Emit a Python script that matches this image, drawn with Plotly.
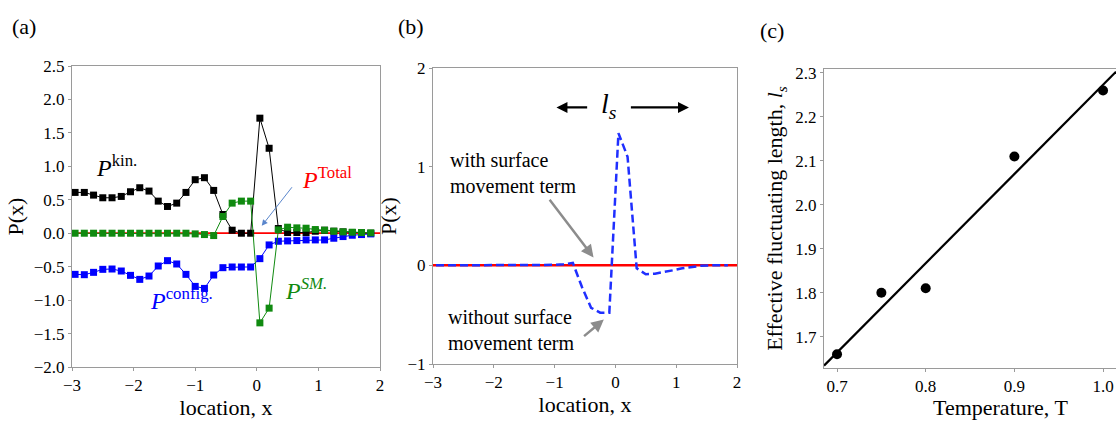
import numpy as np
import plotly.graph_objects as go

# ---------------- data ----------------
x_loc = [-2.95, -2.80, -2.65, -2.50, -2.35, -2.20, -2.05, -1.90, -1.75, -1.60, -1.45,
         -1.30, -1.15, -1.00, -0.85, -0.70, -0.55, -0.40, -0.25, -0.10, 0.05, 0.20,
         0.35, 0.50, 0.65, 0.80, 0.95, 1.10, 1.25, 1.40, 1.55, 1.70, 1.85]

p_kin = [0.61, 0.61, 0.57, 0.53, 0.53, 0.55, 0.62, 0.68, 0.63, 0.48, 0.40,
         0.45, 0.61, 0.80, 0.83, 0.64, 0.28, 0.045, 0.0, 0.0, 1.72, 1.27,
         0.07, 0.01, 0.01, 0.01, 0.03, 0.045, 0.03, 0.02, 0.01, 0.005, 0.0]

p_config = [-0.615, -0.62, -0.585, -0.54, -0.535, -0.565, -0.63, -0.69, -0.64, -0.49, -0.41,
            -0.46, -0.615, -0.795, -0.825, -0.625, -0.515, -0.505, -0.505, -0.505, -0.38, -0.175,
            -0.12, -0.115, -0.11, -0.10, -0.10, -0.10, -0.075, -0.05, -0.03, -0.02, -0.01]

p_sm = [0.0, 0.0, 0.0, 0.0, 0.0, 0.0, 0.0, 0.0, 0.0, 0.0, 0.0,
        0.0, 0.0, -0.01, -0.02, -0.035, 0.25, 0.45, 0.48, 0.48, -1.34, -1.12,
        0.05, 0.09, 0.08, 0.075, 0.055, 0.045, 0.03, 0.02, 0.015, 0.01, 0.005]

total_x = [-3.0, 2.0]
total_y = [0.0, 0.0]

p_without_sm = [0.0, 0.0, 0.0, 0.0, 0.0, 0.0, 0.0, 0.0, 0.0, 0.0, 0.0,
                0.0, 0.0, 0.005, 0.01, 0.025, -0.22, -0.43, -0.48, -0.48, 1.34, 1.10,
                -0.03, -0.09, -0.085, -0.07, -0.05, -0.03, -0.015, -0.005, 0.0, 0.0, 0.0]

temperature = [0.70, 0.75, 0.80, 0.90, 1.00]
ls_values = [1.66, 1.80, 1.81, 2.11, 2.26]

# ---------------- styling ----------------
SERIF = "Liberation Serif"
FRAME = "#9a9a9a"
W, H = 1116, 423

def px_x(p):
    return p / W

def px_y(p):
    return 1 - p / H

axis_common = dict(showline=True, linecolor=FRAME, linewidth=1, mirror=True,
                   ticks="outside", ticklen=3, tickcolor=FRAME, showgrid=False,
                   zeroline=False, automargin=False,
                   tickfont=dict(family=SERIF, size=17, color="black"))
title_font = dict(family=SERIF, size=22, color="black")

fig = go.Figure()

# panel (a)
fig.add_trace(go.Scatter(x=total_x, y=total_y, mode="lines",
                         line=dict(color="#ff0000", width=1.8), xaxis="x", yaxis="y"))
fig.add_trace(go.Scatter(x=x_loc, y=p_kin, mode="lines+markers",
                         line=dict(color="black", width=1),
                         marker=dict(symbol="square", size=7, color="black"), xaxis="x", yaxis="y"))
fig.add_trace(go.Scatter(x=x_loc, y=p_config, mode="lines+markers",
                         line=dict(color="#0000ff", width=1),
                         marker=dict(symbol="square", size=7, color="#0000ff"), xaxis="x", yaxis="y"))
fig.add_trace(go.Scatter(x=x_loc, y=p_sm, mode="lines+markers",
                         line=dict(color="#108a10", width=1),
                         marker=dict(symbol="square", size=7, color="#108a10"), xaxis="x", yaxis="y"))

# panel (b)
fig.add_trace(go.Scatter(x=total_x, y=total_y, mode="lines",
                         line=dict(color="#ff0000", width=2.5), xaxis="x2", yaxis="y2"))
fig.add_trace(go.Scatter(x=x_loc, y=p_without_sm, mode="lines",
                         line=dict(color="#1f2fff", width=2.5, dash="8px,4px"),
                         xaxis="x2", yaxis="y2"))

# panel (c)
c_xrange = [0.6853, 1.0146]
slope, intercept = np.polyfit(temperature, ls_values, 1)
fit_x = np.array(c_xrange)
fig.add_trace(go.Scatter(x=fit_x, y=slope * fit_x + intercept, mode="lines",
                         line=dict(color="black", width=2.2), xaxis="x3", yaxis="y3"))
fig.add_trace(go.Scatter(x=temperature, y=ls_values, mode="markers",
                         marker=dict(symbol="circle", size=10, color="black"),
                         xaxis="x3", yaxis="y3"))

fig.update_layout(
    width=W, height=H, margin=dict(l=0, r=0, t=0, b=0, autoexpand=False),
    font=dict(family=SERIF, size=17, color="black"),
    paper_bgcolor="white", plot_bgcolor="white", showlegend=False,
    xaxis=dict(axis_common, domain=[px_x(72), px_x(380)], range=[-3, 2], dtick=1,
               anchor="y", title=dict(text="location, x", font=title_font, standoff=4)),
    yaxis=dict(axis_common, domain=[px_y(367), px_y(66)], range=[-2, 2.5], dtick=0.5,
               tickformat=".1f", anchor="x",
               title=dict(text="P(x)", font=title_font, standoff=4)),
    xaxis2=dict(axis_common, domain=[px_x(433), px_x(737)], range=[-3, 2], dtick=1,
                anchor="y2", title=dict(text="location, x", font=title_font, standoff=4)),
    yaxis2=dict(axis_common, domain=[px_y(364), px_y(68)], range=[-1, 2], dtick=1,
                anchor="x2", title=dict(text="P(x)", font=title_font, standoff=4)),
    xaxis3=dict(axis_common, domain=[px_x(824), 1.0], range=c_xrange,
                tickvals=[0.7, 0.8, 0.9, 1.0], tickformat=".1f", anchor="y3"),
    yaxis3=dict(axis_common, mirror=False, domain=[px_y(368), px_y(69)], range=[1.6287, 2.309],
                tickvals=[1.7, 1.8, 1.9, 2.0, 2.1, 2.2, 2.3], tickformat=".1f", anchor="x3",
                title=dict(text="Effective fluctuating length, <i>l</i><sub><i>s</i></sub>",
                           font=title_font, standoff=6)),
)

ann = []
# panel letters
for txt, xp, yp in [("(a)", 24, 27), ("(b)", 411, 27), ("(c)", 772, 31)]:
    ann.append(dict(text=txt, x=px_x(xp), y=px_y(yp), xref="paper", yref="paper",
                    xanchor="center", yanchor="middle",
                    showarrow=False, font=dict(family=SERIF, size=22, color="black")))

# panel (a) labels
ann.append(dict(text="<i>P</i><sup>kin.</sup>", x=-2.27, y=1.0, xref="x", yref="y",
                showarrow=False, font=dict(family=SERIF, size=24, color="black")))
ann.append(dict(text="<i>P</i><sup>Total</sup>", x=1.14, y=0.82, xref="x", yref="y",
                showarrow=False, font=dict(family=SERIF, size=24, color="#ff0000")))
ann.append(dict(text="<i>P</i><sup>config.</sup>", x=-1.23, y=-0.98, xref="x", yref="y",
                showarrow=False, font=dict(family=SERIF, size=24, color="#0000ff")))
ann.append(dict(text="<i>P</i><sup><i>SM.</i></sup>", x=0.8, y=-0.83, xref="x", yref="y",
                showarrow=False, font=dict(family=SERIF, size=24, color="#108a10")))
ann.append(dict(text="", x=0.08, y=0.11, ax=0.59, ay=0.71, xref="x", yref="y",
                axref="x", ayref="y", showarrow=True, arrowhead=2, arrowsize=1.2,
                arrowwidth=1, arrowcolor="#5a86cc"))

# panel (b) labels
ann.append(dict(text="", x=-0.97, y=1.6, ax=-0.44, ay=1.6, xref="x2", yref="y2",
                axref="x2", ayref="y2", showarrow=True, arrowhead=2, arrowsize=1,
                arrowwidth=2.2, arrowcolor="black"))
ann.append(dict(text="", x=1.21, y=1.6, ax=0.23, ay=1.6, xref="x2", yref="y2",
                axref="x2", ayref="y2", showarrow=True, arrowhead=2, arrowsize=1,
                arrowwidth=2.2, arrowcolor="black"))
ann.append(dict(text="<i>l</i><sub><i>s</i></sub>", x=-0.1, y=1.62, xref="x2", yref="y2",
                showarrow=False, font=dict(family=SERIF, size=28, color="black")))
ann.append(dict(text="with surface<br>movement term", x=-2.76, y=0.94, xref="x2", yref="y2",
                xanchor="left", align="left", showarrow=False,
                font=dict(family=SERIF, size=20, color="black")))
ann.append(dict(text="without surface<br>movement term", x=-2.79, y=-0.66, xref="x2", yref="y2",
                xanchor="left", align="left", showarrow=False,
                font=dict(family=SERIF, size=20, color="black")))
ann.append(dict(text="", x=-0.36, y=0.08, ax=-1.10, ay=0.68, xref="x2", yref="y2",
                axref="x2", ayref="y2", showarrow=True, arrowhead=2, arrowsize=1,
                arrowwidth=2.5, arrowcolor="#8c8c8c"))
ann.append(dict(text="", x=-0.19, y=-0.55, ax=-0.54, ay=-0.73, xref="x2", yref="y2",
                axref="x2", ayref="y2", showarrow=True, arrowhead=2, arrowsize=1,
                arrowwidth=2.5, arrowcolor="#8c8c8c"))

# panel (c) x title (plot area continues past the right edge of the picture)
ann.append(dict(text="Temperature, T", x=px_x(1000), y=px_y(407), xref="paper", yref="paper",
                xanchor="center", yanchor="middle", showarrow=False, font=title_font))

fig.update_layout(annotations=ann)
fig.write_html("out.html", config={"displayModeBar": False},
               post_script="document.body.style.margin='0';"
                           "document.body.style.overflow='hidden';")
